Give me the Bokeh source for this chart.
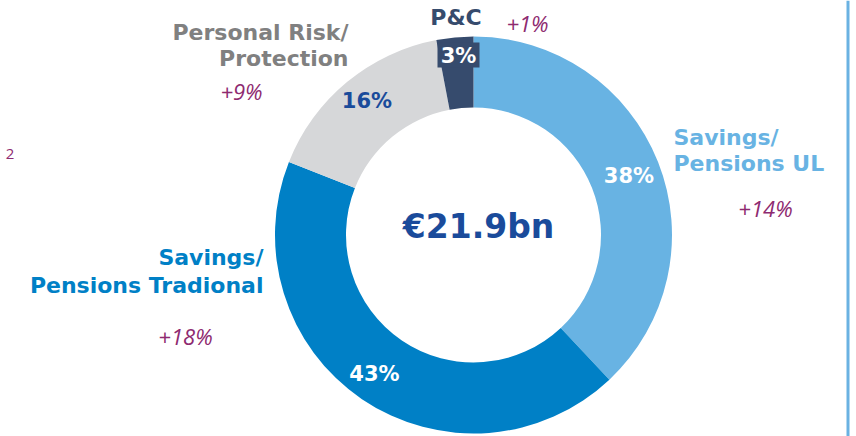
import numpy as np
from bokeh.plotting import figure
from bokeh.models import Range1d, ColumnDataSource
from bokeh.core.properties import value
from bokeh.embed import file_html
from bokeh.resources import INLINE

# ---- data ----
categories = ["Savings/Pensions UL", "Savings/Pensions Tradional", "Personal Risk/Protection", "P&C"]
name_lines = [["Savings/", "Pensions UL"], ["Savings/", "Pensions Tradional"],
              ["Personal Risk/", "Protection"], ["P&C"]]
shares = [38, 43, 16, 3]
growth = ["+14%", "+18%", "+9%", "+1%"]
total_label = "€21.9bn"
page_note = "2"

# ---- styles / layout ----
colors = ["#68b3e3", "#0080c6", "#d6d7d9", "#364b6d"]
name_colors = ["#68b3e3", "#0080c6", "#808080", "#364b6d"]
pct_colors = ["white", "white", "#1a4b9b", "white"]
purple = "#8e2a70"
navy_text = "#1a4b9b"
BOLD_FONT = "DejaVu Sans"
IT_FONT = "Open Sans"

W, H = 856, 436
def Y(sy):  # screen y -> data y
    return H - sy

p = figure(width=W, height=H, output_backend="svg", toolbar_location=None,
           x_range=Range1d(0, W), y_range=Range1d(0, H), min_border=0)
p.axis.visible = False
p.grid.visible = False
p.outline_line_color = None
p.background_fill_color = "white"
p.border_fill_color = "white"

cx, cy = 473, 234.5
R_out, R_in = 198.5, 127.5

fr = np.array(shares, dtype=float) / sum(shares)
cum = np.concatenate([[0], np.cumsum(fr)])
start = np.pi / 2 - cum[:-1] * 2 * np.pi
end = np.pi / 2 - cum[1:] * 2 * np.pi
src = ColumnDataSource(dict(start=start, end=end, color=colors))
p.annular_wedge(x=cx, y=Y(cy), inner_radius=R_in, outer_radius=R_out,
                start_angle="start", end_angle="end", direction="clock",
                fill_color="color", line_color=None, source=src)

# box behind the small slice label
p.quad(left=437, right=479, top=Y(42), bottom=Y(67), fill_color=colors[3], line_color=None)

# percentage labels (screen positions)
pct_pos = [(628.5, 175), (374, 373.5), (366.5, 100), (458, 55)]
for s, (px, py), c in zip(shares, pct_pos, pct_colors):
    p.text(x=[px], y=[Y(py)], text=[f"{s}%"], text_color=c, text_font=value(BOLD_FONT),
           text_font_style="bold", text_font_size="21px", text_align="center",
           text_baseline="middle")

# category name labels
name_pos = [(673, [136.5, 162.5], "left"), (263, [256.5, 284.5], "right"),
            (348, [31.5, 58], "right"), (455.5, [16.5], "center")]
for lines, (nx, ys, al), c in zip(name_lines, name_pos, name_colors):
    for ln, yy in zip(lines, ys):
        p.text(x=[nx], y=[Y(yy)], text=[ln], text_color=c, text_font=value(BOLD_FONT),
               text_font_style="bold", text_font_size="22px", text_align=al,
               text_baseline="middle")

# growth labels
growth_pos = [(765, 207.5), (185, 335), (241, 90), (527, 22)]
for g, (gx, gy) in zip(growth, growth_pos):
    p.text(x=[gx], y=[Y(gy)], text=[g], text_color=purple, text_font=value(IT_FONT),
           text_font_style="italic", text_font_size="22px", text_align="center",
           text_baseline="middle")

# centre total
p.text(x=[478], y=[Y(226)], text=[total_label], text_color=navy_text, text_font=value(BOLD_FONT),
       text_font_style="bold", text_font_size="33px", text_align="center",
       text_baseline="middle")

# page note
p.text(x=[9.5], y=[Y(153)], text=[page_note], text_color=purple, text_font=value(IT_FONT),
       text_font_size="15px", text_align="center", text_baseline="middle")

# right vertical rule
p.segment(x0=847.5, y0=0, x1=847.5, y1=H, line_color="#6ab2e2", line_width=3)

open("out.html", "w").write(file_html(p, INLINE))
